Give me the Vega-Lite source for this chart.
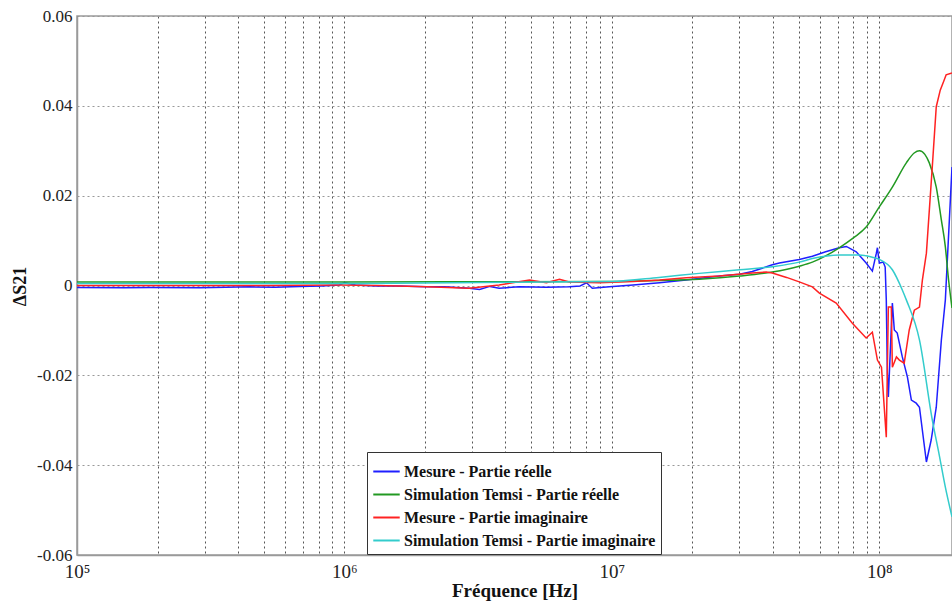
{
  "$schema": "https://vega.github.io/schema/vega-lite/v6.json",
  "width": 875,
  "height": 539,
  "autosize": "none",
  "padding": {"left": 77, "top": 16, "right": 0, "bottom": 53},
  "background": "white",
  "config": {
    "view": {"stroke": "#9a9a9a", "strokeWidth": 1.5},
    "font": "Liberation Serif"
  },
  "datasets": {
    "mr": [
      {"f": 1.0e5, "v": -0.00045}, {"f": 1.5e5, "v": -0.0005}, {"f": 1.87e5, "v": -0.00045}, {"f": 2.87e5, "v": -0.0005},
      {"f": 3.6e5, "v": -0.0004}, {"f": 4.42e5, "v": -0.0003}, {"f": 5.5e5, "v": -0.0004}, {"f": 6.79e5, "v": -0.0002},
      {"f": 8.2e5, "v": -0.0001}, {"f": 9.57e5, "v": 0.0001}, {"f": 1.0e6, "v": 0.0006}, {"f": 1.1e6, "v": 0.0001},
      {"f": 1.318e6, "v": -0.0001}, {"f": 1.607e6, "v": -0.0001}, {"f": 2.03e6, "v": -0.0003}, {"f": 2.366e6, "v": -0.0003},
      {"f": 2.93e6, "v": -0.0006}, {"f": 3.2e6, "v": -0.0009}, {"f": 3.5e6, "v": -0.0002}, {"f": 3.79e6, "v": -0.0006},
      {"f": 4.51e6, "v": -0.0003}, {"f": 5.69e6, "v": -0.0004}, {"f": 6.93e6, "v": -0.0003}, {"f": 7.6e6, "v": -0.0001},
      {"f": 8.04e6, "v": 0.0006}, {"f": 8.45e6, "v": -0.0006}, {"f": 9.79e6, "v": -0.0003}, {"f": 1.2e7, "v": 0.0001},
      {"f": 1.507e7, "v": 0.0006}, {"f": 1.897e7, "v": 0.0012}, {"f": 2.52e7, "v": 0.0021}, {"f": 3.0e7, "v": 0.0025},
      {"f": 3.35e7, "v": 0.0031}, {"f": 3.98e7, "v": 0.0046}, {"f": 4.23e7, "v": 0.005}, {"f": 5.02e7, "v": 0.0058},
      {"f": 5.62e7, "v": 0.0065}, {"f": 6.3e7, "v": 0.0075}, {"f": 7.08e7, "v": 0.0084}, {"f": 7.53e7, "v": 0.0087},
      {"f": 8.2e7, "v": 0.0075}, {"f": 8.93e7, "v": 0.005}, {"f": 9.42e7, "v": 0.0032}, {"f": 9.75e7, "v": 0.0072},
      {"f": 9.84e7, "v": 0.0084}, {"f": 1.0e8, "v": 0.005}, {"f": 1.035e8, "v": 0.0052}, {"f": 1.052e8, "v": 0.0041},
      {"f": 1.062e8, "v": -0.0032}, {"f": 1.072e8, "v": -0.0195}, {"f": 1.081e8, "v": -0.0248}, {"f": 1.119e8, "v": -0.0039},
      {"f": 1.138e8, "v": -0.0099}, {"f": 1.167e8, "v": -0.0106}, {"f": 1.219e8, "v": -0.0159}, {"f": 1.274e8, "v": -0.0204},
      {"f": 1.318e8, "v": -0.0255}, {"f": 1.374e8, "v": -0.0262}, {"f": 1.413e8, "v": -0.0271}, {"f": 1.5e8, "v": -0.0393},
      {"f": 1.563e8, "v": -0.0344}, {"f": 1.633e8, "v": -0.0271}, {"f": 1.706e8, "v": -0.0122}, {"f": 1.766e8, "v": -0.0032},
      {"f": 1.87e8, "v": 0.0264}
    ],
    "sr": [
      {"f": 1.0e5, "v": 0.0008}, {"f": 1.0e6, "v": 0.0008}, {"f": 1.0e7, "v": 0.0009}, {"f": 1.5e7, "v": 0.0011},
      {"f": 2.12e7, "v": 0.0014}, {"f": 3.0e7, "v": 0.0021}, {"f": 3.98e7, "v": 0.003}, {"f": 5.02e7, "v": 0.0043},
      {"f": 5.62e7, "v": 0.0052}, {"f": 6.3e7, "v": 0.0066}, {"f": 7.08e7, "v": 0.0084}, {"f": 8.0e7, "v": 0.0106},
      {"f": 8.93e7, "v": 0.013}, {"f": 1.0e8, "v": 0.0175}, {"f": 1.119e8, "v": 0.0219}, {"f": 1.262e8, "v": 0.0273},
      {"f": 1.35e8, "v": 0.0295}, {"f": 1.413e8, "v": 0.03}, {"f": 1.48e8, "v": 0.0292}, {"f": 1.538e8, "v": 0.0273},
      {"f": 1.633e8, "v": 0.0219}, {"f": 1.706e8, "v": 0.0146}, {"f": 1.766e8, "v": 0.0086}, {"f": 1.811e8, "v": 0.0019},
      {"f": 1.87e8, "v": -0.005}
    ],
    "mi": [
      {"f": 1.0e5, "v": 0.0}, {"f": 5.0e5, "v": 0.0}, {"f": 9.57e5, "v": 0.0001}, {"f": 1.318e6, "v": 0.0},
      {"f": 2.03e6, "v": -0.0003}, {"f": 2.93e6, "v": -0.0006}, {"f": 3.79e6, "v": 0.0001}, {"f": 4.92e6, "v": 0.0012},
      {"f": 5.69e6, "v": 0.0006}, {"f": 6.37e6, "v": 0.0014}, {"f": 6.93e6, "v": 0.0008}, {"f": 8.97e6, "v": 0.0006},
      {"f": 1.2e7, "v": 0.0009}, {"f": 1.507e7, "v": 0.0012}, {"f": 1.897e7, "v": 0.0017}, {"f": 2.52e7, "v": 0.0021},
      {"f": 3.35e7, "v": 0.0028}, {"f": 3.78e7, "v": 0.003}, {"f": 3.98e7, "v": 0.0028}, {"f": 4.5e7, "v": 0.0018},
      {"f": 5.02e7, "v": 0.0008}, {"f": 5.62e7, "v": -0.0003}, {"f": 5.97e7, "v": -0.0017}, {"f": 6.9e7, "v": -0.0039},
      {"f": 7.93e7, "v": -0.0084}, {"f": 8.93e7, "v": -0.0117}, {"f": 9.42e7, "v": -0.0104}, {"f": 9.84e7, "v": -0.0166},
      {"f": 1.019e8, "v": -0.0182}, {"f": 1.062e8, "v": -0.0338}, {"f": 1.081e8, "v": -0.0048}, {"f": 1.109e8, "v": -0.0048},
      {"f": 1.119e8, "v": -0.0182}, {"f": 1.159e8, "v": -0.0159}, {"f": 1.189e8, "v": -0.0166}, {"f": 1.239e8, "v": -0.0173},
      {"f": 1.294e8, "v": -0.0099}, {"f": 1.352e8, "v": -0.0055}, {"f": 1.413e8, "v": -0.0048}, {"f": 1.449e8, "v": 0.0012},
      {"f": 1.5e8, "v": 0.0072}, {"f": 1.578e8, "v": 0.0264}, {"f": 1.633e8, "v": 0.0398}, {"f": 1.69e8, "v": 0.0435},
      {"f": 1.75e8, "v": 0.0458}, {"f": 1.778e8, "v": 0.0469}, {"f": 1.87e8, "v": 0.0473}
    ],
    "si": [
      {"f": 1.0e5, "v": 0.00045}, {"f": 1.0e6, "v": 0.00045}, {"f": 1.0e7, "v": 0.0009}, {"f": 1.5e7, "v": 0.0018},
      {"f": 2.12e7, "v": 0.0027}, {"f": 3.0e7, "v": 0.0035}, {"f": 3.98e7, "v": 0.0042}, {"f": 5.02e7, "v": 0.0052},
      {"f": 5.62e7, "v": 0.006}, {"f": 7.08e7, "v": 0.0068}, {"f": 8.41e7, "v": 0.0068}, {"f": 9.42e7, "v": 0.0063},
      {"f": 1.0e8, "v": 0.0058}, {"f": 1.119e8, "v": 0.0035}, {"f": 1.219e8, "v": -0.001}, {"f": 1.262e8, "v": -0.0032},
      {"f": 1.413e8, "v": -0.0121}, {"f": 1.578e8, "v": -0.0299}, {"f": 1.675e8, "v": -0.0377}, {"f": 1.766e8, "v": -0.0449},
      {"f": 1.87e8, "v": -0.0515}
    ]
  },
  "layer": [
    {
      "data": {"name": "mr"},
      "transform": [{"calculate": "'Mesure - Partie réelle'", "as": "serie"}],
      "mark": {"type": "line", "strokeWidth": 1.5, "clip": true},
      "encoding": {
        "x": {"field": "f", "type": "quantitative"},
        "y": {"field": "v", "type": "quantitative"},
        "color": {"field": "serie", "type": "nominal"}
      }
    },
    {
      "data": {"name": "sr"},
      "transform": [{"calculate": "'Simulation Temsi - Partie réelle'", "as": "serie"}],
      "mark": {"type": "line", "strokeWidth": 1.5, "clip": true, "interpolate": "monotone"},
      "encoding": {
        "x": {"field": "f", "type": "quantitative"},
        "y": {"field": "v", "type": "quantitative"},
        "color": {"field": "serie", "type": "nominal"}
      }
    },
    {
      "data": {"name": "mi"},
      "transform": [{"calculate": "'Mesure - Partie imaginaire'", "as": "serie"}],
      "mark": {"type": "line", "strokeWidth": 1.5, "clip": true},
      "encoding": {
        "x": {"field": "f", "type": "quantitative"},
        "y": {"field": "v", "type": "quantitative"},
        "color": {"field": "serie", "type": "nominal"}
      }
    },
    {
      "data": {"name": "si"},
      "transform": [{"calculate": "'Simulation Temsi - Partie imaginaire'", "as": "serie"}],
      "mark": {"type": "line", "strokeWidth": 1.5, "clip": true, "interpolate": "monotone"},
      "encoding": {
        "x": {
          "field": "f", "type": "quantitative",
          "scale": {"type": "log", "domain": [100000, 187000000], "nice": false},
          "axis": {
            "title": "Fréquence [Hz]",
            "values": [100000, 200000, 300000, 400000, 500000, 600000, 700000, 800000, 900000, 1000000, 2000000, 3000000, 4000000, 5000000, 6000000, 7000000, 8000000, 9000000, 10000000, 20000000, 30000000, 40000000, 50000000, 60000000, 70000000, 80000000, 90000000, 100000000],
            "labelExpr": "datum.value == 100000 ? '10⁵' : datum.value == 1000000 ? '10⁶' : datum.value == 10000000 ? '10⁷' : datum.value == 100000000 ? '10⁸' : ''",
            "grid": true, "gridDash": [2, 3], "gridColor": "#555555", "gridWidth": 1,
            "ticks": false, "domainColor": "#9a9a9a", "domainWidth": 1.5,
            "labelFont": "Liberation Serif", "labelFontSize": 19, "labelColor": "#222222", "labelPadding": 7, "labelFlush": false, "labelOverlap": false,
            "titleFont": "Liberation Serif", "titleFontSize": 19, "titleFontWeight": "bold", "titleColor": "#111111",
            "titleBaseline": "alphabetic", "titleY": 41
          }
        },
        "y": {
          "field": "v", "type": "quantitative",
          "scale": {"domain": [-0.06, 0.06], "nice": false},
          "axis": {
            "title": "ΔS21",
            "values": [-0.06, -0.04, -0.02, 0, 0.02, 0.04, 0.06],
            "labelExpr": "datum.value == 0 ? '0' : (datum.value < 0 ? '-' : '') + format(abs(datum.value), '.2f')",
            "grid": true, "gridDash": [2, 3], "gridColor": "#999999", "gridWidth": 1,
            "ticks": false, "domainColor": "#9a9a9a", "domainWidth": 1.5,
            "labelFont": "Liberation Serif", "labelFontSize": 17, "labelColor": "#222222", "labelPadding": 5,
            "titleFont": "Liberation Serif", "titleFontSize": 18, "titleFontWeight": "bold", "titleColor": "#111111",
            "titleX": -57, "titleY": 270, "titleAlign": "center", "titleBaseline": "middle", "titleAngle": -90
          }
        },
        "color": {
          "field": "serie", "type": "nominal",
          "scale": {
            "domain": ["Mesure - Partie réelle", "Simulation Temsi - Partie réelle", "Mesure - Partie imaginaire", "Simulation Temsi - Partie imaginaire"],
            "range": ["#1f1fff", "#229922", "#ff2222", "#33cccc"]
          },
          "legend": {
            "title": null, "orient": "none", "legendX": 290, "legendY": 436,
            "symbolType": "stroke", "symbolSize": 700, "symbolStrokeWidth": 2,
            "labelFont": "Liberation Serif", "labelFontSize": 16, "labelFontWeight": "bold", "labelColor": "#111111",
            "labelOffset": 3, "rowPadding": 0, "labelLimit": 0,
            "strokeColor": "#333333", "fillColor": "white", "padding": 5
          }
        }
      }
    }
  ]
}
